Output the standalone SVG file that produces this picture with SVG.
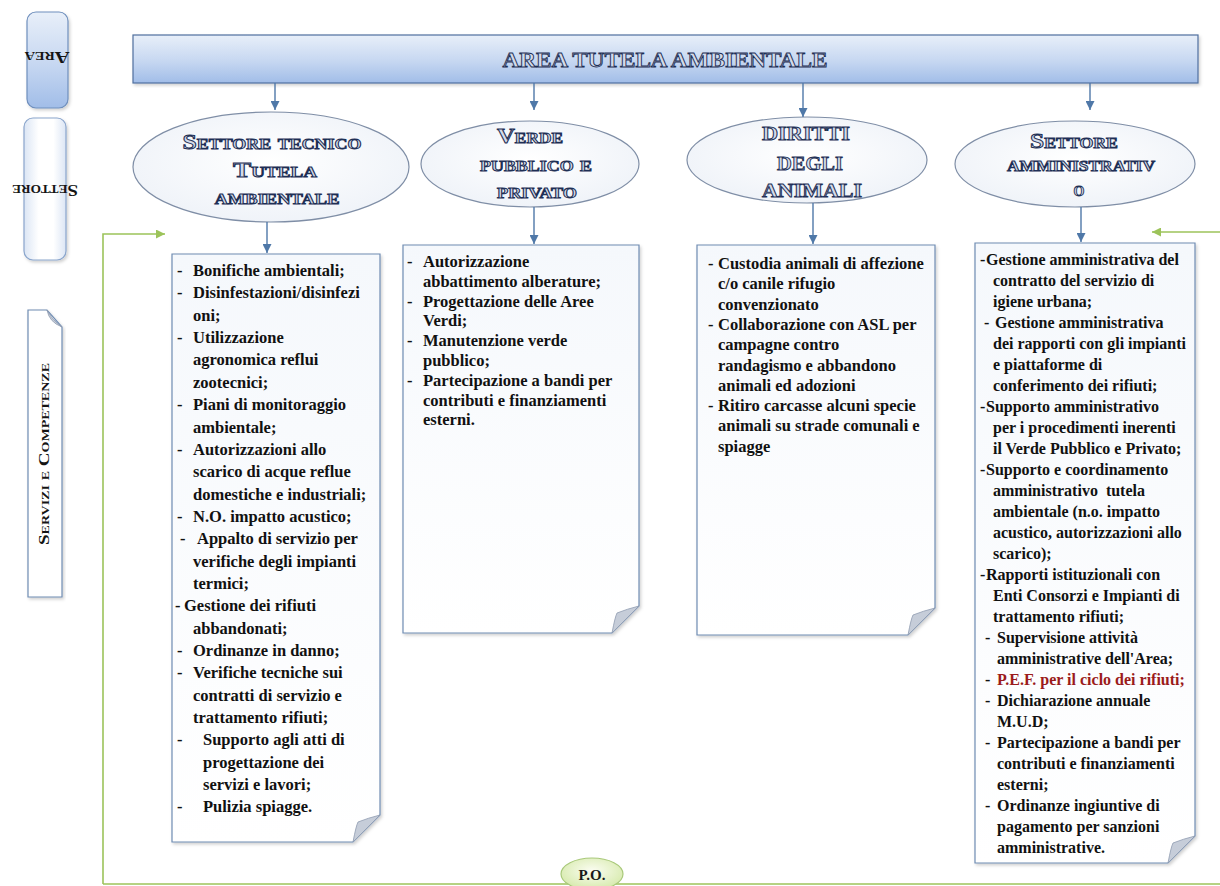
<svg xmlns="http://www.w3.org/2000/svg" width="1220" height="886" viewBox="0 0 1220 886">
<defs>
  <linearGradient id="barGrad" x1="0" y1="0" x2="0" y2="1">
    <stop offset="0" stop-color="#e8eff9"/>
    <stop offset="0.55" stop-color="#c6d7f1"/>
    <stop offset="1" stop-color="#a1bde8"/>
  </linearGradient>
  <linearGradient id="pillWhite" x1="0" y1="0" x2="1" y2="0">
    <stop offset="0" stop-color="#dbe5f4"/>
    <stop offset="0.35" stop-color="#ffffff"/>
    <stop offset="0.7" stop-color="#ffffff"/>
    <stop offset="1" stop-color="#dbe5f4"/>
  </linearGradient>
  <radialGradient id="ellGrad" cx="0.5" cy="0.45" r="0.6">
    <stop offset="0" stop-color="#ffffff"/>
    <stop offset="1" stop-color="#eef2f8"/>
  </radialGradient>
  <linearGradient id="boxGrad" x1="0" y1="0" x2="0" y2="1">
    <stop offset="0" stop-color="#f5f8fc"/>
    <stop offset="1" stop-color="#ffffff"/>
  </linearGradient>
  <radialGradient id="poGrad" cx="0.5" cy="0.4" r="0.65">
    <stop offset="0" stop-color="#fbfdf2"/>
    <stop offset="1" stop-color="#d3e8a6"/>
  </radialGradient>
  <filter id="shadow" x="-5%" y="-5%" width="115%" height="115%">
    <feDropShadow dx="1.5" dy="2" stdDeviation="1.5" flood-color="#000" flood-opacity="0.18"/>
  </filter>
  <marker id="arrB" viewBox="0 0 10 10" refX="10" refY="5" markerWidth="9" markerHeight="9" markerUnits="userSpaceOnUse" orient="auto">
    <path d="M0,0 L10,5 L0,10 Z" fill="#4f78a8"/>
  </marker>
  <marker id="arrG" viewBox="0 0 10 10" refX="10" refY="5" markerWidth="11" markerHeight="9" markerUnits="userSpaceOnUse" orient="auto">
    <path d="M0,0 L10,5 L0,10 Z" fill="#9cc35a"/>
  </marker>
</defs>
<style>
  .deco { font-family: "Liberation Serif", "DejaVu Serif", serif; font-weight: bold; font-variant: small-caps; fill: #d3dbea; stroke: #1e2f55; stroke-width: 0.9; text-anchor: middle; }
  .side { font-family: "Liberation Serif", "DejaVu Serif", serif; font-weight: bold; font-variant: small-caps; fill: #141414; text-anchor: middle; }
  .item { font-family: "Liberation Serif", "DejaVu Serif", serif; font-weight: bold; font-size: 16.5px; fill: #111111; }
  .item4 { font-family: "Liberation Serif", "DejaVu Serif", serif; font-weight: bold; font-size: 16px; fill: #111111; }
  .red { fill: #9b1b1b; }
  .box { fill: url(#boxGrad); stroke: #6f8cb2; stroke-width: 1.2; }
  .fold { fill: #c6cdd9; stroke: #8e9bb0; stroke-width: 0.8; }
  .ell { fill: url(#ellGrad); stroke: #7f8ea6; stroke-width: 1.2; }
  .blue { stroke: #4f78a8; stroke-width: 1.4; fill: none; }
  .green { stroke: #9cc35a; stroke-width: 1.6; fill: none; }
</style>

<!-- Left side labels -->
<g id="label-area">
  <rect x="27" y="12" width="41" height="96" rx="9" ry="9" fill="url(#barGrad)" stroke="#6f8fbd" stroke-width="1.2" filter="url(#shadow)"/>
  <text class="side" x="47" y="62" font-size="17" textLength="45" lengthAdjust="spacingAndGlyphs" transform="rotate(180 47 57)">Area</text>
</g>
<g id="label-settore">
  <rect x="24" y="118" width="42" height="142" rx="9" ry="9" fill="url(#pillWhite)" stroke="#8aa5cc" stroke-width="1.2" filter="url(#shadow)"/>
  <text class="side" x="45" y="195" font-size="17" textLength="66" lengthAdjust="spacingAndGlyphs" transform="rotate(180 45 190)">Settore</text>
</g>
<g id="label-servizi">
  <path d="M28,310 H47 L62,327 V597 H28 Z" fill="#ffffff" stroke="#6f8cb2" stroke-width="1.2" filter="url(#shadow)"/>
  <path d="M47,310 Q49,322 62,327 Q52,320 47,310 Z" class="fold"/>
  <text class="side" x="44" y="459" font-size="15" textLength="182" lengthAdjust="spacingAndGlyphs" transform="rotate(-90 44 454)">Servizi e Competenze</text>
</g>

<!-- Header -->
<g id="area-header">
  <rect x="133" y="35" width="1065" height="48" fill="url(#barGrad)" stroke="#4f6f9e" stroke-width="1.2" filter="url(#shadow)"/>
  <text class="deco" x="665" y="67" font-size="22" textLength="325" lengthAdjust="spacingAndGlyphs">AREA TUTELA AMBIENTALE</text>
</g>

<!-- Sector ellipses -->
<g id="settore-tecnico">
  <ellipse class="ell" cx="271" cy="167" rx="138" ry="55"/>
  <text class="deco" x="272" y="149" font-size="20" textLength="179" lengthAdjust="spacingAndGlyphs">Settore tecnico</text>
  <text class="deco" x="275" y="177" font-size="20" textLength="84" lengthAdjust="spacingAndGlyphs">Tutela</text>
  <text class="deco" x="277" y="204" font-size="20" textLength="125" lengthAdjust="spacingAndGlyphs">ambientale</text>
</g>
<g id="verde-pubblico">
  <ellipse class="ell" cx="530" cy="164" rx="109" ry="43"/>
  <text class="deco" x="530" y="143" font-size="20" textLength="66" lengthAdjust="spacingAndGlyphs">Verde</text>
  <text class="deco" x="536" y="171" font-size="20" textLength="112" lengthAdjust="spacingAndGlyphs">pubblico e</text>
  <text class="deco" x="537" y="198" font-size="20" textLength="80" lengthAdjust="spacingAndGlyphs">privato</text>
</g>
<g id="diritti-animali">
  <ellipse class="ell" cx="807" cy="160" rx="120" ry="43"/>
  <text class="deco" x="806" y="140" font-size="19" textLength="88" lengthAdjust="spacingAndGlyphs">DIRITTI</text>
  <text class="deco" x="810" y="170" font-size="19" textLength="66" lengthAdjust="spacingAndGlyphs">DEGLI</text>
  <text class="deco" x="812" y="197" font-size="19" textLength="100" lengthAdjust="spacingAndGlyphs">ANIMALI</text>
</g>
<g id="settore-amministrativo">
  <ellipse class="ell" cx="1075" cy="164" rx="120" ry="43"/>
  <text class="deco" x="1074" y="148" font-size="20" textLength="88" lengthAdjust="spacingAndGlyphs">Settore</text>
  <text class="deco" x="1081" y="171" font-size="20" textLength="148" lengthAdjust="spacingAndGlyphs">amministrativ</text>
  <text class="deco" x="1079" y="196" font-size="20">o</text>
</g>

<!-- Box 1 -->
<g id="box-tecnico">
  <path class="box" d="M172,254 H380 V815 L353,842 H172 Z" filter="url(#shadow)"/>
  <path class="fold" d="M380,815 L353,842 Q356,826 358,822 Q368,818 380,815 Z"/>
  <text class="item">
    <tspan x="177" y="276">-</tspan><tspan x="193" y="276">Bonifiche ambientali;</tspan>
    <tspan x="177" y="298.4">-</tspan><tspan x="193" y="298.4">Disinfestazioni/disinfezi</tspan>
    <tspan x="193" y="320.7">oni;</tspan>
    <tspan x="177" y="343">-</tspan><tspan x="193" y="343">Utilizzazione</tspan>
    <tspan x="193" y="365.4">agronomica reflui</tspan>
    <tspan x="193" y="387.8">zootecnici;</tspan>
    <tspan x="177" y="410.1">-</tspan><tspan x="193" y="410.1">Piani di monitoraggio</tspan>
    <tspan x="193" y="432.5">ambientale;</tspan>
    <tspan x="177" y="454.8">-</tspan><tspan x="193" y="454.8">Autorizzazioni allo</tspan>
    <tspan x="193" y="477.2">scarico di acque reflue</tspan>
    <tspan x="193" y="499.5">domestiche e industriali;</tspan>
    <tspan x="177" y="521.9">-</tspan><tspan x="193" y="521.9">N.O. impatto acustico;</tspan>
    <tspan x="180" y="544.2">-</tspan><tspan x="197" y="544.2">Appalto di servizio per</tspan>
    <tspan x="193" y="566.6">verifiche degli impianti</tspan>
    <tspan x="193" y="588.9">termici;</tspan>
    <tspan x="175" y="611.3">-</tspan><tspan x="184" y="611.3">Gestione dei rifiuti</tspan>
    <tspan x="193" y="633.6">abbandonati;</tspan>
    <tspan x="177" y="656">-</tspan><tspan x="193" y="656">Ordinanze in danno;</tspan>
    <tspan x="177" y="678.3">-</tspan><tspan x="193" y="678.3">Verifiche tecniche sui</tspan>
    <tspan x="193" y="700.7">contratti di servizio e</tspan>
    <tspan x="193" y="723">trattamento rifiuti;</tspan>
    <tspan x="177" y="745.4">-</tspan><tspan x="203" y="745.4">Supporto agli atti di</tspan>
    <tspan x="203" y="767.7">progettazione dei</tspan>
    <tspan x="203" y="790.1">servizi e lavori;</tspan>
    <tspan x="177" y="812.4">-</tspan><tspan x="203" y="812.4">Pulizia spiagge.</tspan>
  </text>
</g>

<!-- Box 2 -->
<g id="box-verde">
  <path class="box" d="M403,245 H639 V606 L612,633 H403 Z" filter="url(#shadow)"/>
  <path class="fold" d="M639,606 L612,633 Q615,617 617,613 Q627,609 639,606 Z"/>
  <text class="item">
    <tspan x="407" y="267">-</tspan><tspan x="423" y="267">Autorizzazione</tspan>
    <tspan x="423" y="286.8">abbattimento alberature;</tspan>
    <tspan x="407" y="306.6">-</tspan><tspan x="423" y="306.6">Progettazione delle Aree</tspan>
    <tspan x="423" y="326.4">Verdi;</tspan>
    <tspan x="407" y="346.2">-</tspan><tspan x="423" y="346.2">Manutenzione verde</tspan>
    <tspan x="423" y="366">pubblico;</tspan>
    <tspan x="407" y="385.8">-</tspan><tspan x="423" y="385.8">Partecipazione a bandi per</tspan>
    <tspan x="423" y="405.6">contributi e finanziamenti</tspan>
    <tspan x="423" y="425.4">esterni.</tspan>
  </text>
</g>

<!-- Box 3 -->
<g id="box-animali">
  <path class="box" d="M697,245 H935 V608 L908,635 H697 Z" filter="url(#shadow)"/>
  <path class="fold" d="M935,608 L908,635 Q911,619 913,615 Q923,611 935,608 Z"/>
  <text class="item">
    <tspan x="708" y="269">-</tspan><tspan x="718" y="269">Custodia animali di affezione</tspan>
    <tspan x="718" y="289.3">c/o canile rifugio</tspan>
    <tspan x="718" y="309.6">convenzionato</tspan>
    <tspan x="708" y="329.9">-</tspan><tspan x="718" y="329.9">Collaborazione con ASL per</tspan>
    <tspan x="718" y="350.2">campagne contro</tspan>
    <tspan x="718" y="370.5">randagismo e abbandono</tspan>
    <tspan x="718" y="390.8">animali ed adozioni</tspan>
    <tspan x="708" y="411.1">-</tspan><tspan x="718" y="411.1">Ritiro carcasse alcuni specie</tspan>
    <tspan x="718" y="431.4">animali su strade comunali e</tspan>
    <tspan x="718" y="451.7">spiagge</tspan>
  </text>
</g>

<!-- Box 4 -->
<g id="box-amministrativo">
  <path class="box" d="M975,243 H1195 V836 L1168,863 H975 Z" filter="url(#shadow)"/>
  <path class="fold" d="M1195,836 L1168,863 Q1171,847 1173,843 Q1183,839 1195,836 Z"/>
  <text class="item4">
    <tspan x="980" y="265">-</tspan><tspan x="986" y="265">Gestione amministrativa del</tspan>
    <tspan x="993" y="286">contratto del servizio di</tspan>
    <tspan x="993" y="307">igiene urbana;</tspan>
    <tspan x="984" y="328">-</tspan><tspan x="995" y="328">Gestione amministrativa</tspan>
    <tspan x="993" y="349">dei rapporti con gli impianti</tspan>
    <tspan x="993" y="370">e piattaforme di</tspan>
    <tspan x="993" y="391">conferimento dei rifiuti;</tspan>
    <tspan x="980" y="412">-</tspan><tspan x="986" y="412">Supporto amministrativo</tspan>
    <tspan x="993" y="433">per i procedimenti inerenti</tspan>
    <tspan x="993" y="454">il Verde Pubblico e Privato;</tspan>
    <tspan x="980" y="475">-</tspan><tspan x="986" y="475">Supporto e coordinamento</tspan>
    <tspan x="993" y="496">amministrativo&#160; tutela</tspan>
    <tspan x="993" y="517">ambientale (n.o. impatto</tspan>
    <tspan x="993" y="538">acustico, autorizzazioni allo</tspan>
    <tspan x="993" y="559">scarico);</tspan>
    <tspan x="980" y="580">-</tspan><tspan x="986" y="580">Rapporti istituzionali con</tspan>
    <tspan x="993" y="601">Enti Consorzi e Impianti di</tspan>
    <tspan x="993" y="622">trattamento rifiuti;</tspan>
    <tspan x="985" y="643">-</tspan><tspan x="997" y="643">Supervisione attività</tspan>
    <tspan x="997" y="664">amministrative dell'Area;</tspan>
    <tspan x="985" y="685">-</tspan><tspan x="997" y="685" class="red">P.E.F. per il ciclo dei rifiuti;</tspan>
    <tspan x="985" y="706">-</tspan><tspan x="997" y="706">Dichiarazione annuale</tspan>
    <tspan x="997" y="727">M.U.D;</tspan>
    <tspan x="985" y="748">-</tspan><tspan x="997" y="748">Partecipazione a bandi per</tspan>
    <tspan x="997" y="769">contributi e finanziamenti</tspan>
    <tspan x="997" y="790">esterni;</tspan>
    <tspan x="985" y="811">-</tspan><tspan x="997" y="811">Ordinanze ingiuntive di</tspan>
    <tspan x="997" y="832">pagamento per sanzioni</tspan>
    <tspan x="997" y="853">amministrative.</tspan>
  </text>
</g>

<!-- Connectors -->
<g id="connectors">
  <path class="blue" d="M275,83 V110" marker-end="url(#arrB)"/>
  <path class="blue" d="M534,83 V110" marker-end="url(#arrB)"/>
  <path class="blue" d="M803,83 V117" marker-end="url(#arrB)"/>
  <path class="blue" d="M1090,83 V110" marker-end="url(#arrB)"/>
  <path class="blue" d="M267,222 V253" marker-end="url(#arrB)"/>
  <path class="blue" d="M534,207 V244" marker-end="url(#arrB)"/>
  <path class="blue" d="M813,203 V244" marker-end="url(#arrB)"/>
  <path class="blue" d="M1081,207 V242" marker-end="url(#arrB)"/>
  <path class="green" d="M103,884 V234 H165" marker-end="url(#arrG)"/>
  <path class="green" d="M103,884 H1220"/>
  <path class="green" d="M1220,232 H1152" marker-end="url(#arrG)"/>
</g>

<!-- P.O. -->
<g id="po">
  <ellipse cx="592" cy="874" rx="31" ry="16" fill="url(#poGrad)" stroke="#a9c97a" stroke-width="1.2"/>
  <text x="592" y="880" font-family="Liberation Serif, serif" font-weight="bold" font-size="15" fill="#1a1a1a" text-anchor="middle">P.O.</text>
</g>
</svg>
